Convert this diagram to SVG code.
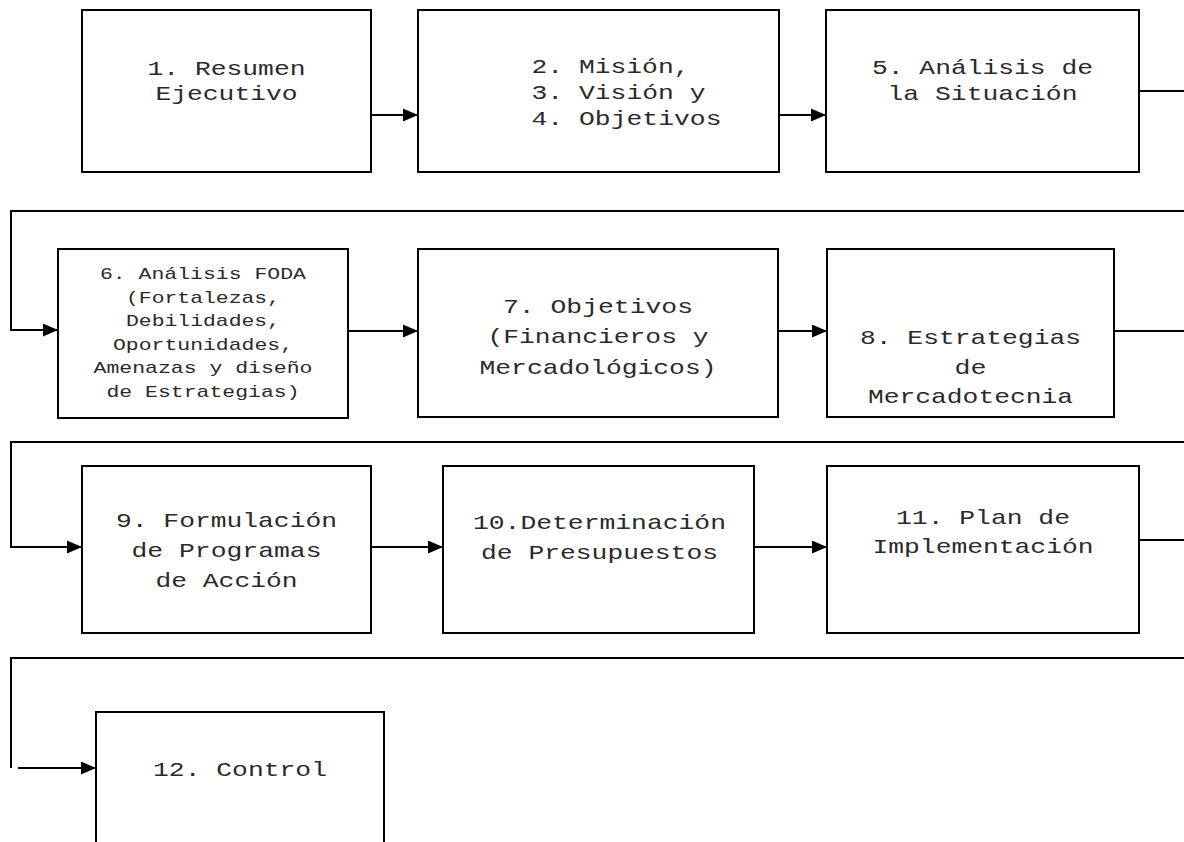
<svg xmlns="http://www.w3.org/2000/svg" width="1184" height="842" viewBox="0 0 1184 842">
<style>
.box{fill:#fff;stroke:#000;stroke-width:2}
.t{font-family:"Courier New","Liberation Mono",monospace;font-size:21px;fill:#2a2a2a;text-anchor:middle}
.s{font-family:"Courier New","Liberation Mono",monospace;font-size:17px;fill:#2a2a2a;text-anchor:middle}
.l{text-anchor:start}
.c{fill:none;stroke:#000;stroke-width:2}
</style>
<defs>
<marker id="ah" markerUnits="userSpaceOnUse" markerWidth="15" markerHeight="13" refX="15" refY="6.5" orient="auto">
<path d="M0,0 L15,6.5 L0,13 z" fill="#000"/>
</marker>
</defs>
<rect width="1184" height="842" fill="#fff"/>
<g id="connectors">
<line class="c" x1="371" y1="115" x2="418" y2="115" marker-end="url(#ah)"/>
<line class="c" x1="779" y1="115" x2="826" y2="115" marker-end="url(#ah)"/>
<line class="c" x1="1139" y1="91" x2="1184" y2="91"/>
<polyline class="c" points="1184,211 11,211 11,330 58,330" marker-end="url(#ah)"/>
<line class="c" x1="348" y1="331" x2="418" y2="331" marker-end="url(#ah)"/>
<line class="c" x1="778" y1="331" x2="827" y2="331" marker-end="url(#ah)"/>
<line class="c" x1="1114" y1="331" x2="1184" y2="331"/>
<polyline class="c" points="1184,442 11,442 11,547 82,547" marker-end="url(#ah)"/>
<line class="c" x1="371" y1="547" x2="443" y2="547" marker-end="url(#ah)"/>
<line class="c" x1="754" y1="547" x2="827" y2="547" marker-end="url(#ah)"/>
<line class="c" x1="1139" y1="540" x2="1184" y2="540"/>
<polyline class="c" points="1184,658 11,658 11,768"/>
<line class="c" x1="18" y1="768" x2="96" y2="768" marker-end="url(#ah)"/>
</g>
<g id="n1">
<rect class="box" x="82" y="10" width="289" height="162"/>
<text class="t" x="226.5" y="75" textLength="158" lengthAdjust="spacingAndGlyphs">1. Resumen</text>
<text class="t" x="226.5" y="100" textLength="142" lengthAdjust="spacingAndGlyphs">Ejecutivo</text>
</g>
<g id="n2">
<rect class="box" x="418" y="10" width="361" height="162"/>
<text class="t l" x="531.5" y="73" textLength="158" lengthAdjust="spacingAndGlyphs">2. Misión,</text>
<text class="t l" x="531.5" y="99" textLength="174" lengthAdjust="spacingAndGlyphs">3. Visión y</text>
<text class="t l" x="531.5" y="125" textLength="190" lengthAdjust="spacingAndGlyphs">4. Objetivos</text>
</g>
<g id="n3">
<rect class="box" x="826" y="10" width="313" height="162"/>
<text class="t" x="982.5" y="74" textLength="221" lengthAdjust="spacingAndGlyphs">5. Análisis de</text>
<text class="t" x="982.5" y="100" textLength="190" lengthAdjust="spacingAndGlyphs">la Situación</text>
</g>
<g id="n6">
<rect class="box" x="58" y="249" width="290" height="169"/>
<text class="s" x="203" y="279" textLength="206" lengthAdjust="spacingAndGlyphs">6. Análisis FODA</text>
<text class="s" x="203" y="302.5" textLength="154" lengthAdjust="spacingAndGlyphs">(Fortalezas,</text>
<text class="s" x="203" y="326" textLength="154" lengthAdjust="spacingAndGlyphs">Debilidades,</text>
<text class="s" x="203" y="349.5" textLength="180" lengthAdjust="spacingAndGlyphs">Oportunidades,</text>
<text class="s" x="203" y="373" textLength="219" lengthAdjust="spacingAndGlyphs">Amenazas y diseño</text>
<text class="s" x="203" y="396.5" textLength="193" lengthAdjust="spacingAndGlyphs">de Estrategias)</text>
</g>
<g id="n7">
<rect class="box" x="418" y="249" width="360" height="168"/>
<text class="t" x="598" y="312.5" textLength="190" lengthAdjust="spacingAndGlyphs">7. Objetivos</text>
<text class="t" x="598" y="343" textLength="221" lengthAdjust="spacingAndGlyphs">(Financieros y</text>
<text class="t" x="598" y="373.5" textLength="237" lengthAdjust="spacingAndGlyphs">Mercadológicos)</text>
</g>
<g id="n8">
<rect class="box" x="827" y="249" width="287" height="168"/>
<text class="t" x="970.5" y="344" textLength="221" lengthAdjust="spacingAndGlyphs">8. Estrategias</text>
<text class="t" x="970.5" y="373.5" textLength="32" lengthAdjust="spacingAndGlyphs">de</text>
<text class="t" x="970.5" y="403" textLength="205" lengthAdjust="spacingAndGlyphs">Mercadotecnia</text>
</g>
<g id="n9">
<rect class="box" x="82" y="466" width="289" height="167"/>
<text class="t" x="226.5" y="527" textLength="221" lengthAdjust="spacingAndGlyphs">9. Formulación</text>
<text class="t" x="226.5" y="557" textLength="190" lengthAdjust="spacingAndGlyphs">de Programas</text>
<text class="t" x="226.5" y="587" textLength="142" lengthAdjust="spacingAndGlyphs">de Acción</text>
</g>
<g id="n10">
<rect class="box" x="443" y="466" width="311" height="167"/>
<text class="t" x="599.5" y="529" textLength="253" lengthAdjust="spacingAndGlyphs">10.Determinación</text>
<text class="t" x="599.5" y="559" textLength="237" lengthAdjust="spacingAndGlyphs">de Presupuestos</text>
</g>
<g id="n11">
<rect class="box" x="827" y="466" width="312" height="167"/>
<text class="t" x="983" y="524" textLength="174" lengthAdjust="spacingAndGlyphs">11. Plan de</text>
<text class="t" x="983" y="553" textLength="221" lengthAdjust="spacingAndGlyphs">Implementación</text>
</g>
<g id="n12">
<path class="box" d="M96,843 V712 H384 V843"/>
<text class="t" x="240" y="776" textLength="174" lengthAdjust="spacingAndGlyphs">12. Control</text>
</g>
</svg>
